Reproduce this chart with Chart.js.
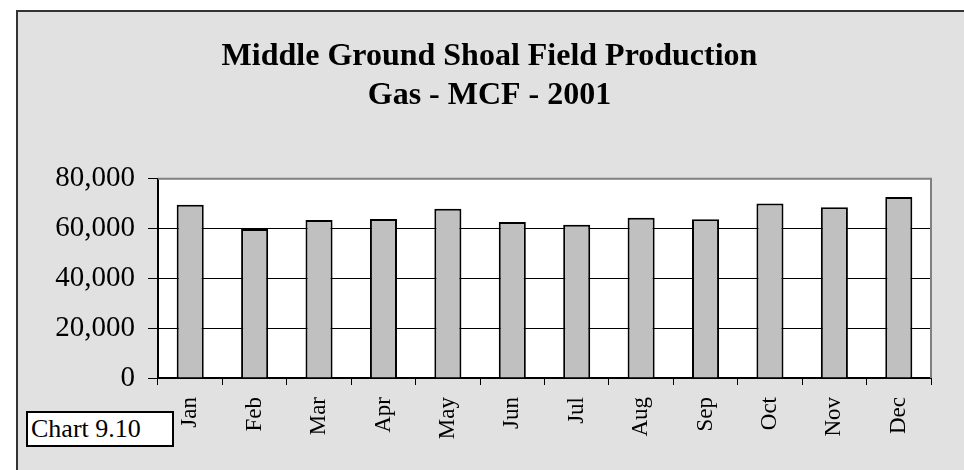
<!DOCTYPE html>
<html>
<head>
<meta charset="utf-8">
<script src="https://cdn.jsdelivr.net/npm/chart.js@4"></script>
<style>
  body { margin: 0; background: #fff; width: 964px; height: 470px; overflow: hidden; }
  #frame {
    position: absolute; left: 16px; top: 10px; width: 950px; height: 462px;
    box-sizing: border-box; border: 2px solid #333; background: #e1e1e1;
  }
  #myChart { position: absolute; left: 0; top: 0; }
  #tag {
    position: absolute; left: 26px; top: 411px; width: 148px; height: 36px;
    box-sizing: border-box; border: 2px solid #000; background: #fff;
    font: 26px "Liberation Serif", "Times New Roman", serif; line-height: 32px;
    padding-left: 3px; color: #000;
  }
</style>
</head>
<body>
<div id="frame"><canvas id="myChart" width="946" height="458"></canvas></div>
<div id="tag">Chart 9.10</div>
<script>
var months = ["Jan", "Feb", "Mar", "Apr", "May", "Jun", "Jul", "Aug", "Sep", "Oct", "Nov", "Dec"];
var gasValues = [69600, 59800, 63500, 63900, 68000, 62700, 61500, 64400, 63800, 70100, 68600, 72700];
var titleLines = ["Middle Ground Shoal Field Production", "Gas - MCF - 2001"];
var yMin = 0;
var yMax = 80000;
var yStep = 20000;

var serif = "'Liberation Serif', 'Times New Roman', serif";

// white plot area with grey top/right edges
var plotBox = {
  id: "plotBox",
  beforeDraw: function (chart) {
    var a = chart.chartArea;
    var ctx = chart.ctx;
    ctx.save();
    ctx.fillStyle = "#ffffff";
    ctx.fillRect(a.left, a.top, a.right - a.left, a.bottom - a.top);
    ctx.restore();
  },
  afterDraw: function (chart) {
    var a = chart.chartArea;
    var ctx = chart.ctx;
    ctx.save();
    ctx.strokeStyle = "#808080";
    ctx.lineWidth = 2;
    ctx.beginPath();
    ctx.moveTo(a.left, a.top);
    ctx.lineTo(a.right, a.top);
    ctx.lineTo(a.right, a.bottom);
    ctx.stroke();
    ctx.restore();
  },
};

new Chart("myChart", {
  type: "bar",
  data: {
    labels: months,
    datasets: [
      {
        data: gasValues,
        backgroundColor: "#c0c0c0",
        borderColor: "#000000",
        borderWidth: 2,
        barPercentage: 0.42,
        categoryPercentage: 1,
      },
    ],
  },
  plugins: [plotBox],
  options: {
    responsive: false,
    animation: false,
    layout: { padding: { left: 30, right: 33, top: 0, bottom: 12 } },
    plugins: {
      legend: { display: false },
      tooltip: { enabled: false },
      title: {
        display: true,
        text: titleLines,
        color: "#000",
        font: { family: serif, size: 32, weight: "bold", lineHeight: 1.2 },
        padding: { top: 26, bottom: 64 },
      },
    },
    scales: {
      x: {
        afterFit: function (s) { s.height = 80; },
        grid: {
          drawOnChartArea: false,
          drawTicks: true,
          tickLength: 7,
          tickColor: "#000",
          tickWidth: 1,
        },
        border: { display: true, color: "#000", width: 2 },
        ticks: {
          color: "#000",
          font: { family: serif, size: 23 },
          minRotation: 90,
          maxRotation: 90,
          padding: 12,
        },
      },
      y: {
        min: yMin,
        max: yMax,
        afterFit: function (s) { s.width = 110; },
        grid: {
          color: function (c) {
            if (c.tick && (c.tick.value === yMin || c.tick.value === yMax)) return "rgba(0,0,0,0)";
            return "#000";
          },
          lineWidth: 1,
          tickLength: 10,
          tickColor: "#000",
          tickWidth: 1,
        },
        border: { display: true, color: "#000", width: 2 },
        ticks: {
          stepSize: yStep,
          color: "#000",
          padding: 13,
          font: { family: serif, size: 29 },
          callback: function (v) { return v.toLocaleString("en-US"); },
        },
      },
    },
  },
});
</script>
</body>
</html>
